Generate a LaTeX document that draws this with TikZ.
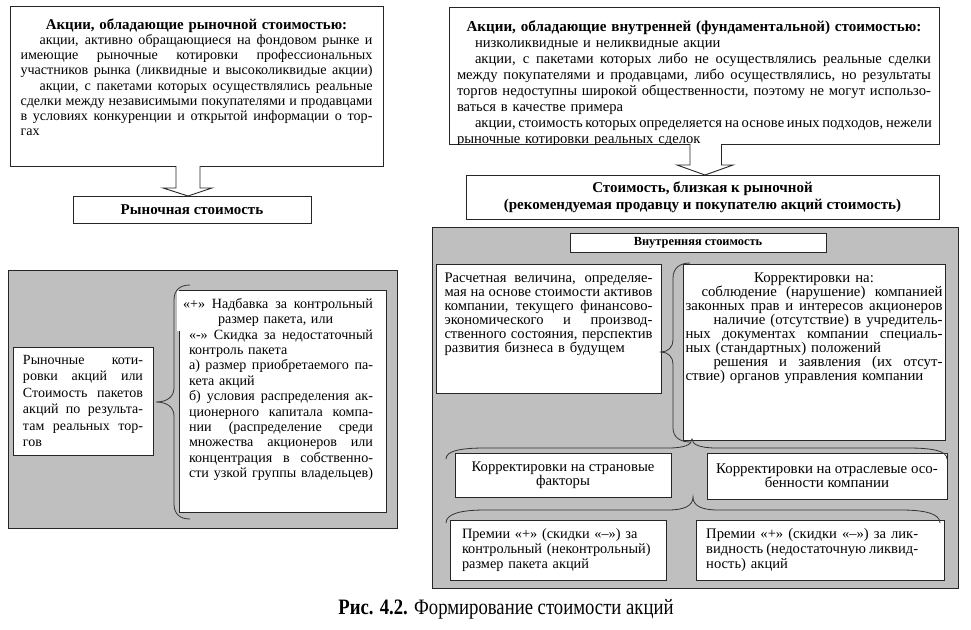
\documentclass[tikz,border=0pt]{standalone}
\usepackage{fontspec}
\setmainfont{Liberation Serif}
\usepackage{graphicx}
\usetikzlibrary{positioning}
\newcommand{\jl}[1]{\makebox[\hsize][s]{\spaceskip=.25em plus .6em minus .07em\relax#1}}

\begin{document}
\begin{tikzpicture}[
    x=1pt, y=-1pt,
    box/.style={draw=black!85, line width=0.9pt, fill=white, inner sep=0pt, outer sep=0pt},
    panel/.style={box, fill=gray!50},
    txt/.style={inner sep=0pt, align=left, font=\fontsize{14.1}{15}\selectfont},
    hd/.style={align=center, font=\fontsize{15}{17}\selectfont\bfseries},
    brc/.style={draw=black!80, line width=0.8pt},
    fat/.style={draw=black!85, line width=0.9pt, fill=white}
]
\useasboundingbox (0,0) rectangle (971,629);

\node[box, anchor=north west, minimum width=373pt, minimum height=160pt] (mktA) at (10,6) {};
\node[txt, text width=352pt, below=12.5pt of mktA.north] (mktAt) {%
\makebox[\hsize]{\fontsize{14.9}{15}\selectfont\bfseries Акции, обладающие рыночной стоимостью:}\\
\jl{\hspace*{19pt}акции, активно обращающиеся на фондовом рынке и}\\
\jl{имеющие рыночные котировки профессиональных}\\
\jl{участников рынка (ликвидные и высоколиквидые акции)}\\[1pt]
\jl{\hspace*{19pt}акции, с пакетами которых осуществлялись реальные}\\
\jl{сделки между независимыми покупателями и продавцами}\\
\jl{в условиях конкуренции и открытой информации о тор-}\\
гах};

\node[box, hd, minimum width=238pt, minimum height=27pt] (mktV) at (192,209.5) {Рыночная стоимость};

\node[box, anchor=north west, minimum width=490pt, minimum height=137pt] (intA) at (449,7) {};
\begin{scope}
\clip (449,7) rectangle (939,144);
\node[txt, font=\fontsize{14.6}{16}\selectfont, text width=474pt, below=13.5pt of intA.north] (intAt) {%
\makebox[\hsize]{\fontsize{15.1}{16}\selectfont\bfseries Акции, обладающие внутренней (фундаментальной) стоимостью:}\\
\hspace*{18pt}низколиквидные и неликвидные акции\\
\jl{\hspace*{18pt}акции, с пакетами которых либо не осуществлялись реальные сделки}\\
\jl{между покупателями и продавцами, либо осуществлялись, но результаты}\\
\jl{торгов недоступны широкой общественности, поэтому не могут использо-}\\
ваться в качестве примера\\
\jl{\hspace*{18pt}акции, стоимость которых определяется на основе иных подходов, нежели}\\
рыночные котировки реальных сделок};
\end{scope}

\node[box, hd, minimum width=473pt, minimum height=44pt] (nearV) at (702.5,197) {Стоимость, близкая к рыночной\\(рекомендуемая продавцу и покупателю акций стоимость)};

\draw[fat] ([xshift=-20.5pt]mktA.south) -- ++(0,22) -- ++(-13,0) -- ([xshift=-4pt]mktV.north) -- ++(24,-8) -- ++(-12,0) -- ++(0,-22);
\draw[fat] ([xshift=-4pt]intA.south) -- ++(0,21) -- ++(-13,0) -- ([xshift=2.5pt]nearV.north) -- ++(28,-10) -- ++(-11.5,0) -- ++(0,-21);

\node[panel, anchor=north west, minimum width=389pt, minimum height=258pt] (lpan) at (8,270) {};

\node[box, minimum width=140pt, minimum height=108pt, text width=120pt, align=left, font=\fontsize{14}{16.5}\selectfont] (quoteB) at (83,401) {\jl{Рыночные коти-}\\
\jl{ровки акций или}\\
\jl{Стоимость пакетов}\\
\jl{акций по результа-}\\
\jl{там реальных тор-}\\
гов};

\node[box, anchor=north west, minimum width=207pt, minimum height=222pt] (premB) at (179,290) {};
\fill[white] (177,291) rectangle (188,331);
\node[txt, font=\fontsize{14.1}{15.4}\selectfont, text width=184pt, below=8pt of premB.north, xshift=-1.5pt] (premBt) {%
\hspace*{-6pt}\makebox[190pt][s]{\spaceskip=.25em plus .6em minus .07em\relax«+» Надбавка за контрольный}\\
\hspace*{29pt}размер пакета, или\\
\jl{«-» Скидка за недостаточный}\\
контроль пакета\\
\jl{а) размер приобретаемого па-}\\
кета акций\\
\jl{б) условия распределения ак-}\\
\jl{ционерного капитала компа-}\\
\jl{нии (распределение среди}\\
\jl{множества акционеров или}\\
\jl{концентрация в собственно-}\\
\jl{сти узкой группы владельцев)}};

\draw[brc] (190,285) .. controls (180,285) and (174,290) .. (174,300) -- (174,388) .. controls (174,396) and (168,402) .. (156,402) .. controls (168,402) and (174,408) .. (174,416) -- (174,504) .. controls (174,514) and (180,519) .. (190,519);

\node[panel, anchor=north west, minimum width=526pt, minimum height=361pt] (rpan) at (432,227) {};

\node[box, minimum width=256pt, minimum height=19pt, font=\fontsize{12.4}{14}\selectfont\bfseries] (innV) at (698,242.5) {Внутренняя стоимость};

\node[box, anchor=north west, minimum width=225pt, minimum height=129pt] (calcB) at (436,264) {};
\node[txt, font=\fontsize{14.6}{14}\selectfont, text width=208pt, below=9pt of calcB.north] (calcBt) {%
\jl{Расчетная величина, определяе-}\\
\jl{мая на основе стоимости активов}\\
\jl{компании, текущего финансово-}\\
\jl{экономического и производ-}\\
\jl{ственного состояния, перспектив}\\
развития бизнеса в будущем};

\node[box, anchor=north west, minimum width=262pt, minimum height=176pt] (corrB) at (683,264) {};
\node[txt, font=\fontsize{14.8}{14}\selectfont, text width=257pt, below=9pt of corrB.north] (corrBt) {%
\makebox[\hsize]{Корректировки на:}\\
\jl{\hspace*{16pt}соблюдение (нарушение) компанией}\\
\jl{законных прав и интересов акционеров}\\
\jl{\hspace*{28pt}наличие (отсутствие) в учредитель-}\\
\jl{ных документах компании специаль-}\\
ных (стандартных) положений\\
\jl{\hspace*{28pt}решения и заявления (их отсут-}\\
ствие) органов управления компании};

\draw[brc] (690,263) .. controls (680,263) and (673,268) .. (673,278) -- (673,340) .. controls (673,347) and (668,352) .. (661,352) .. controls (668,352) and (673,357) .. (673,364) -- (673,428) .. controls (673,437) and (680,442) .. (690,442);

\node[box, minimum width=216pt, minimum height=44pt, align=center, font=\fontsize{14.7}{14}\selectfont] (ctryB) at (563,475) {Корректировки на страновые\\факторы};
\node[box, minimum width=240pt, minimum height=46pt, align=center, font=\fontsize{14.9}{14}\selectfont] (indB) at (827,476) {Корректировки на отраслевые осо-\\бенности компании};

\draw[brc] (446,459) .. controls (446,451) and (460,448) .. (485,448) -- (668,448) .. controls (684,448) and (692,445) .. (692,439) .. controls (692,445) and (701,448) .. (717,448) -- (908,448) .. controls (933,448) and (947,451) .. (947,459);

\node[box, minimum width=216pt, minimum height=60pt, text width=192pt, align=left, font=\fontsize{14.3}{15}\selectfont] (ctrlB) at (558,550) {Премии «+» (скидки «–») за\\контрольный (неконтрольный)\\размер пакета акций};
\node[box, anchor=north west, minimum width=248pt, minimum height=60pt] (liqB) at (696,520) {};
\node[txt, font=\fontsize{14.6}{15}\selectfont, text width=212pt, right=10pt of liqB.west] (liqBt) {%
\jl{Премии «+» (скидки «–») за лик-}\\
\jl{видность (недостаточную ликвид-}\\
ность) акций};

\draw[brc] (446,523) .. controls (446,514) and (460,510) .. (485,510) -- (668,510) .. controls (684,510) and (693,506) .. (693,497) .. controls (693,506) and (702,510) .. (718,510) -- (901,510) .. controls (926,510) and (940,514) .. (940,523);

\node[font=\fontsize{22}{24}\selectfont] (cap) at (506,609) {\scalebox{0.85}[1]{\textbf{Рис. 4.2.} Формирование стоимости акций}};

\end{tikzpicture}
\end{document}
